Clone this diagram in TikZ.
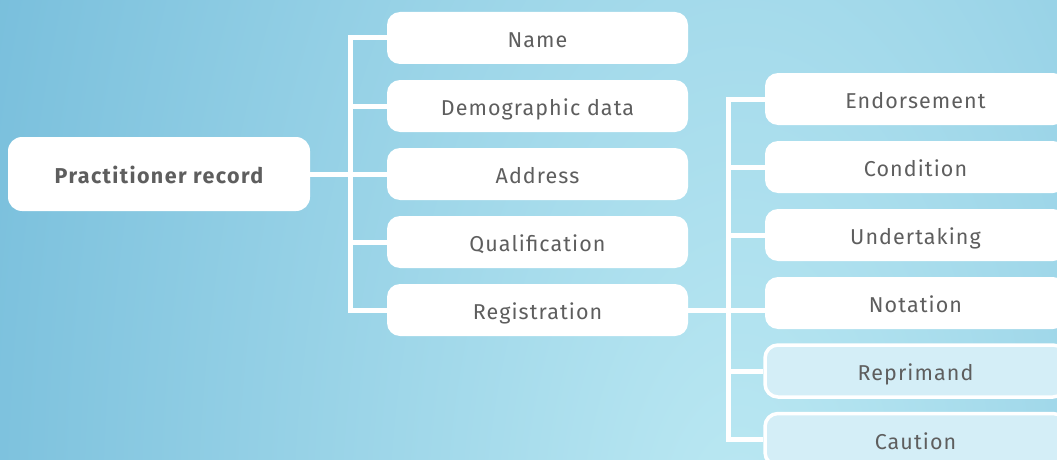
\documentclass[tikz,border=0pt]{standalone}
\usepackage{fontspec}
\setmainfont{Fira Sans}[LetterSpace=5]
\definecolor{bgdark}{HTML}{79BFDC}
\definecolor{bglight}{HTML}{BCE9F3}
\definecolor{txt}{HTML}{5E5E5E}
\definecolor{softfill}{HTML}{D4EEF7}
\begin{document}
\begin{tikzpicture}[x=1pt,y=-1pt,
  box/.style={rectangle, rounded corners=13pt, fill=white, minimum width=301pt,
    minimum height=52pt, inner sep=0pt, text height=21pt, text depth=2pt,
    text=txt, font=\fontsize{21.5}{24}\selectfont},
  softbox/.style={box, fill=softfill, draw=white, line width=3.5pt},
  mainbox/.style={box, minimum width=302pt, minimum height=74pt, rounded corners=14pt,
    font=\fontsize{21.5}{24}\selectfont\bfseries\addfontfeatures{LetterSpace=6.5}},
  conn/.style={draw=white, line width=5pt}]
\useasboundingbox (0,0) rectangle (1057,460);
\begin{scope}
\clip (0,0) rectangle (1057,460);
\fill[bgdark] (0,0) rectangle (1057,460);
\shade[inner color=bglight, outer color=bgdark] (740,560) ellipse [x radius=800, y radius=1600];
\node[mainbox] (pr) at (159,174) {Practitioner record};
\node[box] (nm) at (537.5,38) {Name};
\node[box] (dm) at (537.5,106) {Demographic data};
\node[box] (ad) at (537.5,174) {Address};
\node[box] (ql) at (537.5,242) {Qualification};
\node[box] (rg) at (537.5,310) {Registration};
\coordinate (mt) at (350,174);
\node[box] (en) at (915.5,99) {Endorsement};
\node[box] (cd) at (915.5,167) {Condition};
\node[box] (ut) at (915.5,235) {Undertaking};
\node[box] (no) at (915.5,303) {Notation};
\node[softbox] (rp) at (915.5,371) {Reprimand};
\node[softbox] (ca) at (915.5,439.5) {Caution};
\coordinate (rt) at (728,310);
\draw[conn] (pr.east) -- (ad.west);
\draw[conn] (nm.west) -- (nm.west -| mt) -- (rg.west -| mt) -- (rg.west);
\draw[conn] (dm.west) -- (dm.west -| mt);
\draw[conn] (ql.west) -- (ql.west -| mt);
\draw[conn] (en.west) -- (en.west -| rt) -- (ca.west -| rt) -- (ca.west);
\draw[conn] (rg.east) -- (rg.east -| no.west);
\draw[conn] (cd.west) -- (cd.west -| rt);
\draw[conn] (ut.west) -- (ut.west -| rt);
\draw[conn] (rp.west) -- (rp.west -| rt);
\end{scope}
\end{tikzpicture}
\end{document}
